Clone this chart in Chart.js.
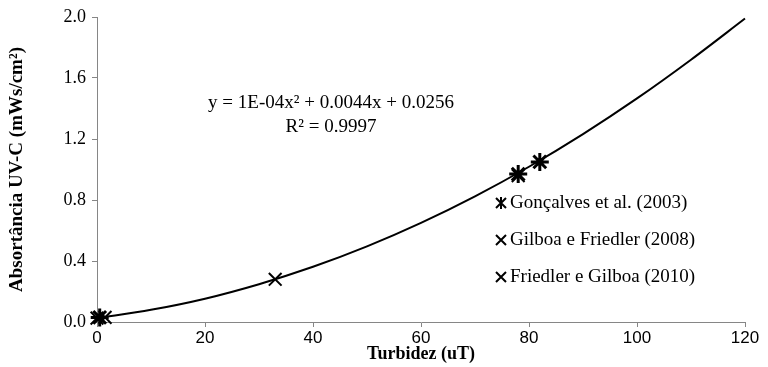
<!DOCTYPE html>
<html>
<head>
<meta charset="utf-8">
<script src="https://cdn.jsdelivr.net/npm/chart.js@4"></script>
<style>
html,body{margin:0;padding:0;background:#fff;}
canvas{display:block;}
</style>
</head>
<body>
<canvas id="c" width="768" height="367"></canvas>
<script>
// ---- data ----
const xTickLabels = [0, 20, 40, 60, 80, 100, 120];
const yTickLabels = [0.0, 0.4, 0.8, 1.2, 1.6, 2.0];

const goncalvesX = [0.5, 78, 82];
const goncalvesY = [0.03, 0.97, 1.05];

const gilboa2008X = [1.5, 78];
const gilboa2008Y = [0.03, 0.96];

const friedler2010X = [0, 33];
const friedler2010Y = [0.025, 0.28];

// trend curve sampled along the drawn line
const trendX = [0, 10, 20, 30, 40, 50, 60, 70, 80, 90, 100, 110, 120];
const trendY = [0.026, 0.08, 0.153, 0.248, 0.362, 0.496, 0.65, 0.824, 1.018, 1.232, 1.466, 1.72, 1.99];

const seriesNames = ['Gonçalves et al. (2003)', 'Gilboa e Friedler (2008)', 'Friedler e Gilboa (2010)'];
const equationText = 'y = 1E-04x² + 0.0044x + 0.0256';
const r2Text = 'R² = 0.9997';
const xTitle = 'Turbidez (uT)';
const yTitle = 'Absortância UV-C (mWs/cm²)';

const zip = (xs, ys) => xs.map((x, i) => ({x: x, y: ys[i]}));

const serif = '"Liberation Serif", "Times New Roman", serif';
const sans = '"Liberation Sans Narrow", "Liberation Sans", Arial, sans-serif';
const axisGrey = '#868686';

const annotPlugin = {
  id: 'annot',
  afterDraw(chart) {
    const ctx = chart.ctx;
    ctx.save();
    ctx.fillStyle = '#000';
    ctx.font = '19px ' + serif;
    ctx.textAlign = 'center';
    ctx.textBaseline = 'middle';
    ctx.fillText(equationText, 331, 103);
    ctx.fillText(r2Text, 331, 127);

    // legend
    const rows = [203, 240, 277];
    ctx.textAlign = 'left';
    chart.data.datasets.slice(0, 3).forEach((ds, i) => {
      const cy = rows[i];
      const cx = 501;
      ctx.strokeStyle = '#000';
      ctx.lineWidth = 2;
      const r = 5;
      ctx.beginPath();
      ctx.moveTo(cx - r, cy - r); ctx.lineTo(cx + r, cy + r);
      ctx.moveTo(cx - r, cy + r); ctx.lineTo(cx + r, cy - r);
      if (ds.pointStyle === 'star') {
        ctx.moveTo(cx, cy - r - 1); ctx.lineTo(cx, cy + r + 1);
      }
      ctx.stroke();
      ctx.fillText(ds.label, 510, cy);
    });
    ctx.restore();
  }
};

new Chart(document.getElementById('c'), {
  type: 'scatter',
  data: {
    datasets: [
      {
        label: seriesNames[0],
        data: zip(goncalvesX, goncalvesY),
        pointStyle: 'star',
        radius: 9,
        borderWidth: 3,
        borderColor: '#000',
        backgroundColor: '#000',
        clip: false
      },
      {
        label: seriesNames[1],
        data: zip(gilboa2008X, gilboa2008Y),
        pointStyle: 'crossRot',
        radius: 9,
        borderWidth: 2,
        borderColor: '#000',
        backgroundColor: '#000',
        clip: false
      },
      {
        label: seriesNames[2],
        data: zip(friedler2010X, friedler2010Y),
        pointStyle: 'crossRot',
        radius: 9,
        borderWidth: 2,
        borderColor: '#000',
        backgroundColor: '#000',
        clip: false
      },
      {
        type: 'line',
        label: 'trend',
        data: zip(trendX, trendY),
        borderColor: '#000',
        borderWidth: 2,
        pointRadius: 0,
        fill: false,
        cubicInterpolationMode: 'monotone',
        clip: false
      }
    ]
  },
  options: {
    responsive: false,
    animation: false,
    devicePixelRatio: 1,
    layout: { padding: { top: 17, right: 23, bottom: 2, left: 0 } },
    plugins: {
      legend: { display: false },
      tooltip: { enabled: false }
    },
    scales: {
      x: {
        type: 'linear',
        min: 0, max: 120,
        afterBuildTicks(scale) { scale.ticks = xTickLabels.map(v => ({value: v})); },
        afterFit(scale) { scale.height = 43; },
        ticks: {
          color: '#000',
          font: { family: sans, size: 17 },
          padding: 1,
          maxRotation: 0
        },
        grid: { display: true, drawOnChartArea: false, drawTicks: true, tickLength: 5, color: axisGrey },
        border: { display: true, color: axisGrey, width: 1 },
        title: {
          display: true,
          text: xTitle,
          color: '#000',
          font: { family: serif, size: 18, weight: 'bold' },
          padding: { top: 0, bottom: 0 }
        }
      },
      y: {
        type: 'linear',
        min: 0, max: 2.0,
        afterBuildTicks(scale) { scale.ticks = yTickLabels.map(v => ({value: v})); },
        afterFit(scale) { scale.width = 97; },
        ticks: {
          color: '#000',
          font: { family: serif, size: 18 },
          padding: 6,
          callback: v => Number(v).toFixed(1)
        },
        grid: { display: true, drawOnChartArea: false, drawTicks: true, tickLength: 5, color: axisGrey },
        border: { display: true, color: axisGrey, width: 1 },
        title: {
          display: true,
          text: yTitle,
          color: '#000',
          font: { family: serif, size: 19, weight: 'bold' },
          padding: { top: 6, bottom: 0 }
        }
      }
    }
  },
  plugins: [annotPlugin]
});
</script>
</body>
</html>
